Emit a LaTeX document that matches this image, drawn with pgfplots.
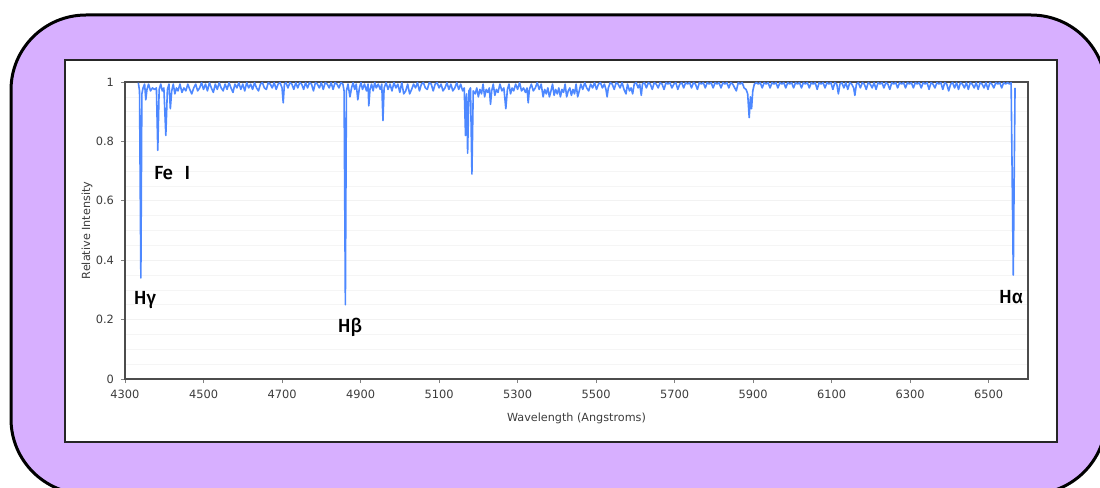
\documentclass[border=0pt]{standalone}
\usepackage{pgfplots}
\pgfplotsset{compat=1.18}
\usepackage{fontspec}
\setmainfont{DejaVu Sans}
\newfontfamily\labfont{Fira Sans}[BoldFont={Fira Sans Medium}]
\definecolor{bgpurple}{RGB}{215,175,255}
\definecolor{specblue}{RGB}{77,136,255}
\definecolor{ticktext}{RGB}{60,60,60}
\begin{document}
\begin{tikzpicture}
\useasboundingbox (0,0) rectangle (550pt,244pt);
\begin{scope}
\clip (0,0) rectangle (550pt,244pt);
\filldraw[fill=bgpurple, draw=black, line width=1.5pt, rounded corners=37.5pt] (5.5pt,-3pt) rectangle (553pt,236.5pt);
\end{scope}
\filldraw[fill=white, draw=black!85, line width=0.6pt] (32.5pt,23pt) rectangle (528.5pt,214pt);
\begin{axis}[
  at={(62.5pt,54.5pt)}, anchor=south west,
  scale only axis, width=451.5pt, height=148.5pt,
  xmin=4300, xmax=6600, ymin=0, ymax=1,
  xtick={4300,4500,...,6500},
  ytick={0,0.2,0.4,0.6,0.8,1},
  minor ytick={0.05,0.1,...,0.95},
  ymajorgrids, yminorgrids,
  major grid style={black!5, line width=0.3pt},
  minor grid style={black!4, line width=0.3pt},
  tick align=outside, tick pos=left,
  major tick length=2pt, minor tick length=0pt,
  tick style={black!50, line width=0.4pt},
  axis line style={black!70, line width=0.6pt},
  /pgf/number format/assume math mode=true,
  /pgf/number format/1000 sep={},
  ticklabel style={font=\fontsize{5.7}{6.5}\selectfont, text=ticktext},
  label style={font=\fontsize{5.6}{6.5}\selectfont, text=ticktext},
  xlabel={Wavelength (Angstroms)},
  ylabel={Relative Intensity},
  xlabel style={at={(axis description cs:0.5,-0.1313)}, anchor=center},
  ylabel style={at={(axis description cs:-0.0421,0.5)}, anchor=center},
  clip=true,
]
\addplot[specblue, line width=0.8pt, line join=round] coordinates {
(4334,0.998) (4337,0.97) (4340.4,0.34) (4343,0.96) (4346,0.98) (4350,0.993) (4353,0.94) (4356,0.975) (4360,0.993) (4365,0.97) (4370,0.98) (4375,0.975) (4380,0.98) (4383.5,0.77) (4387,0.975) (4391,0.993) (4395,0.97) (4399,0.98) (4404,0.82) (4408,0.975) (4412,0.993) (4415.5,0.91) (4419,0.97) (4423,0.993) (4427,0.96) (4431,0.98) (4435,0.97) (4440,0.993) (4445,0.965) (4450,0.98) (4455,0.97) (4460,0.993) (4465,0.975) (4470,0.96) (4475,0.98) (4480,0.993) (4485,0.97) (4490,0.98) (4495,0.998) (4500,0.975)
(4505,0.993) (4510,0.97) (4515,0.998) (4520,0.98) (4525,0.965) (4530,0.993) (4535,0.975) (4540,0.998) (4545,0.98) (4550,0.97) (4555,0.993) (4560,0.975) (4565,0.998) (4570,0.98) (4575,0.965) (4580,0.993) (4585,0.98) (4590,0.998) (4595,0.975) (4600,0.993) (4605,0.97) (4610,0.998) (4615,0.98) (4620,0.993) (4625,0.975) (4630,0.998) (4635,0.98) (4640,0.97) (4645,0.993) (4650,0.998) (4655,0.98) (4660,0.975) (4665,0.998) (4670,0.993) (4675,0.98) (4680,0.998) (4685,0.975) (4690,0.993) (4695,0.998) (4700,0.98) (4703,0.93) (4706,0.993) (4710,0.998)
(4715,0.98) (4720,0.998) (4725,0.993) (4730,0.975) (4735,0.998) (4740,0.98) (4745,0.998) (4750,0.993) (4755,0.975) (4760,0.998) (4765,0.98) (4770,0.998) (4775,0.993) (4780,0.97) (4785,0.998) (4790,0.993) (4795,0.98) (4800,0.998) (4805,0.975) (4810,0.998) (4815,0.993) (4820,0.98) (4825,0.998) (4830,0.975) (4835,0.998) (4840,0.993) (4845,0.98) (4850,0.998) (4855,0.993) (4858,0.97) (4861.3,0.25) (4864,0.97) (4868,0.993) (4873,0.95) (4877,0.98) (4881,0.998) (4885,0.975) (4889,0.993) (4893,0.94) (4897,0.98) (4901,0.998) (4905,0.975) (4910,0.993) (4915,0.97) (4919,0.993) (4921,0.92) (4924,0.975) (4928,0.993) (4932,0.97) (4936,0.998) (4940,0.98) (4945,0.993) (4950,0.975) (4954,0.993) (4957,0.87) (4960,0.98) (4965,0.998) (4970,0.975) (4975,0.993) (4980,0.97) (4985,0.998) (4990,0.98) (4995,0.993) (5000,0.965) (5005,0.998) (5010,0.96) (5015,0.97) (5020,0.993) (5025,0.96) (5030,0.975) (5035,0.993) (5040,0.98) (5045,0.998) (5050,0.97) (5055,0.993) (5060,0.998) (5065,0.98) (5070,0.975) (5075,0.998) (5080,0.993) (5085,0.97) (5090,0.993) (5095,0.998) (5100,0.98)
(5105,0.993) (5110,0.97) (5115,0.98) (5120,0.998) (5125,0.975) (5130,0.993) (5135,0.97) (5140,0.98) (5145,0.998) (5150,0.975) (5155,0.993) (5160,0.97) (5164,0.98) (5167.3,0.82) (5170,0.96) (5172.7,0.76) (5176,0.97) (5180,0.98) (5183.6,0.69) (5187,0.97) (5192,0.96) (5196,0.98) (5200,0.95) (5204,0.975) (5208,0.96) (5212,0.993) (5216,0.95) (5220,0.975) (5224,0.965) (5228,0.98) (5231,0.925) (5234,0.97) (5238,0.993) (5242,0.955) (5246,0.975) (5250,0.965) (5255,0.993) (5260,0.97) (5265,0.98) (5270,0.91) (5274,0.975) (5278,0.993) (5282,0.96) (5286,0.98) (5290,0.97) (5295,0.993) (5300,0.975) (5305,0.998) (5310,0.97) (5315,0.98) (5320,0.965) (5324,0.98) (5327,0.93) (5330,0.975) (5335,0.993) (5340,0.97) (5345,0.98) (5350,0.998) (5355,0.975) (5360,0.993) (5365,0.95) (5369,0.975) (5373,0.96) (5377,0.98) (5381,0.95) (5385,0.97) (5389,0.993) (5393,0.955) (5397,0.975) (5401,0.96) (5405,0.98) (5409,0.95) (5413,0.975) (5417,0.965) (5421,0.993) (5425,0.95) (5429,0.97) (5433,0.98) (5437,0.955) (5441,0.975) (5445,0.96) (5449,0.993) (5453,0.95) (5457,0.97) (5461,0.993) (5466,0.975) (5471,0.998) (5476,0.98) (5481,0.97) (5486,0.993) (5491,0.98) (5496,0.998) (5501,0.975)
(5506,0.993) (5511,0.998) (5516,0.98) (5521,0.993) (5525,0.975) (5528,0.95) (5531,0.98) (5536,0.998) (5541,0.993) (5546,0.975) (5551,0.998) (5556,0.993) (5561,0.98) (5566,0.998) (5571,0.975) (5576,0.96) (5580,0.993) (5585,0.97) (5589,0.98) (5593,0.96) (5597,0.993) (5602,0.998) (5607,0.98) (5611,0.993) (5615,0.955) (5618,0.993) (5623,0.998) (5628,0.98) (5633,0.998) (5638,0.993) (5643,0.975) (5648,0.998) (5653,0.993) (5658,0.98) (5663,0.998) (5668,0.993) (5673,0.975) (5678,0.998) (5683,0.993) (5688,0.998) (5693,0.98) (5698,0.993) (5703,0.998) (5708,0.975) (5713,0.993) (5718,0.998) (5723,0.98) (5728,0.998) (5733,0.993) (5738,0.998) (5743,0.98) (5748,0.998) (5753,0.993) (5758,0.975) (5763,0.998) (5768,0.993) (5773,0.998) (5778,0.98) (5783,0.998) (5788,0.993) (5793,0.998) (5798,0.98) (5803,0.998) (5808,0.993) (5813,0.998) (5818,0.98) (5823,0.998) (5828,0.993) (5833,0.998) (5838,0.98) (5843,0.998) (5848,0.993) (5853,0.98) (5857,0.97) (5862,0.998) (5867,0.993) (5872,0.998) (5877,0.98) (5882,0.975) (5886,0.96) (5889.9,0.88) (5893,0.95) (5895.9,0.91) (5899,0.97) (5903,0.993) (5908,0.998)
(5913,0.993) (5918,0.998) (5923,0.98) (5928,0.998) (5933,0.993) (5938,0.998) (5943,0.98) (5948,0.998) (5953,0.993) (5958,0.998) (5963,0.98) (5968,0.998) (5973,0.993) (5978,0.998) (5983,0.98) (5988,0.998) (5993,0.993) (5998,0.998) (6003,0.98) (6008,0.998) (6013,0.993) (6018,0.998) (6023,0.98) (6028,0.998) (6033,0.993) (6038,0.998) (6043,0.98) (6048,0.998) (6053,0.993) (6058,0.998) (6063,0.975) (6068,0.998) (6073,0.993) (6078,0.998) (6083,0.98) (6088,0.998) (6093,0.993) (6098,0.998) (6103,0.975) (6108,0.998) (6113,0.993) (6117,0.96) (6121,0.993) (6126,0.998) (6131,0.98) (6136,0.998) (6141,0.975) (6146,0.998) (6151,0.993) (6156,0.98) (6159,0.955) (6163,0.993) (6168,0.998) (6173,0.98) (6178,0.998) (6183,0.993) (6188,0.975) (6193,0.998) (6198,0.993) (6203,0.98) (6208,0.998) (6213,0.975) (6218,0.998) (6223,0.993) (6228,0.998) (6233,0.98) (6238,0.998) (6243,0.993) (6248,0.975) (6253,0.998) (6258,0.993) (6263,0.998) (6268,0.98) (6273,0.998) (6278,0.993) (6283,0.998) (6288,0.98) (6293,0.998) (6298,0.993) (6303,0.998) (6308,0.98) (6313,0.998) (6318,0.993) (6323,0.998) (6328,0.98) (6333,0.998) (6338,0.993) (6343,0.998) (6348,0.975) (6353,0.998) (6358,0.993) (6363,0.98) (6368,0.998) (6373,0.993) (6378,0.998) (6383,0.975) (6388,0.998) (6393,0.993) (6398,0.97) (6403,0.993) (6408,0.998) (6413,0.98) (6418,0.998) (6423,0.975) (6428,0.998) (6433,0.993) (6438,0.98) (6443,0.998) (6448,0.975) (6453,0.998) (6458,0.993) (6463,0.98) (6468,0.998) (6473,0.975) (6478,0.998) (6483,0.993) (6488,0.98) (6493,0.998) (6498,0.975) (6503,0.998) (6508,0.993) (6513,0.98) (6518,0.998) (6523,0.993) (6528,0.998) (6533,0.98) (6538,0.998) (6543,0.993) (6548,0.998) (6553,0.993) (6557,0.998) (6562.5,0.35) (6567,0.98)
};
\node[font=\labfont\bfseries\fontsize{9.5}{10}\selectfont, text=black] at (axis cs:4351,0.266) {Hγ};
\node[font=\labfont\bfseries\fontsize{9.5}{10}\selectfont, text=black] at (axis cs:4420,0.694) {Fe\hspace{0.6em}I};
\node[font=\labfont\bfseries\fontsize{9.5}{10}\selectfont, text=black] at (axis cs:4873,0.175) {Hβ};
\node[font=\labfont\bfseries\fontsize{9.5}{10}\selectfont, text=black] at (axis cs:6557,0.276) {Hα};
\end{axis}
\end{tikzpicture}
\end{document}
